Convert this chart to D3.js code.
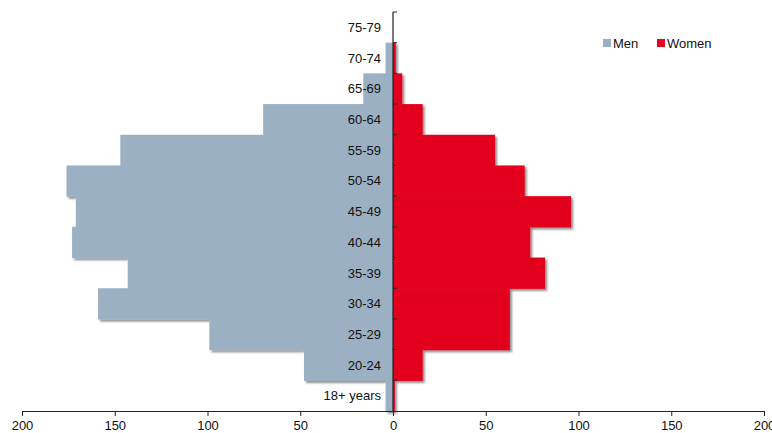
<!DOCTYPE html>
<html>
<head>
<meta charset="utf-8">
<script src="https://cdn.jsdelivr.net/npm/d3@7"></script>
<style>
body{margin:0;background:#fff;}
svg text{font-family:"Liberation Sans",Arial,sans-serif;}
</style>
</head>
<body>
<div id="chart"></div>
<script>
var ageGroups = ["75-79","70-74","65-69","60-64","55-59","50-54","45-49","40-44","35-39","30-34","25-29","20-24","18+ years"];
var menValues = [0,4,16,70,147,176,171,173,143,159,99,48,4];
var womenValues = [0,1.5,5,16,55,71,96,74,82,63,63,16,1];
var xTicks = [-200,-150,-100,-50,0,50,100,150,200];

var width = 772, height = 433;

var svg = d3.select("#chart").append("svg")
    .attr("width", width)
    .attr("height", height);

var defs = svg.append("defs");
var f = defs.append("filter").attr("id","shadow")
    .attr("x","-5%").attr("y","-5%").attr("width","110%").attr("height","115%");
f.append("feDropShadow")
    .attr("dx",2).attr("dy",2).attr("stdDeviation",1.3)
    .attr("flood-color","#000").attr("flood-opacity",0.45);

var x = d3.scaleLinear().domain([-200,200]).range([22,764]);
var y = d3.scaleBand().domain(ageGroups).range([12,411]).padding(0);

var rows = ageGroups.map(function(g,i){ return {group:g, men:menValues[i], women:womenValues[i]}; });

// men
svg.append("g").attr("filter","url(#shadow)")
  .selectAll("rect").data(rows).enter().append("rect")
    .attr("x", function(d){ return x(-d.men); })
    .attr("y", function(d){ return y(d.group); })
    .attr("width", function(d){ return x(0) - x(-d.men); })
    .attr("height", y.bandwidth() + 0.6)
    .attr("fill", "#9bb0c2");

// women
svg.append("g").attr("filter","url(#shadow)")
  .selectAll("rect").data(rows).enter().append("rect")
    .attr("x", x(0))
    .attr("y", function(d){ return y(d.group); })
    .attr("width", function(d){ return x(d.women) - x(0); })
    .attr("height", y.bandwidth() + 0.6)
    .attr("fill", "#e3051f");

// category labels
svg.append("g").selectAll("text").data(ageGroups).enter().append("text")
    .attr("x", x(0) - 12)
    .attr("y", function(d){ return y(d) + y.bandwidth()/2; })
    .attr("dy", "0.36em")
    .attr("text-anchor","end")
    .attr("font-size", 13)
    .attr("fill","#111")
    .text(function(d){ return d; });

// vertical axis with boundary ticks
var vAxis = svg.append("g");
vAxis.append("line")
    .attr("x1", x(0)).attr("x2", x(0))
    .attr("y1", 12).attr("y2", 411)
    .attr("stroke","#222").attr("stroke-width",1.2);
var bounds = ageGroups.map(function(g){ return y(g); });
vAxis.selectAll("line.tk").data(bounds).enter().append("line")
    .attr("class","tk")
    .attr("x1", x(0)).attr("x2", x(0)+4)
    .attr("y1", function(d){ return d; }).attr("y2", function(d){ return d; })
    .attr("stroke","#222");

// bottom axis
var xAxis = d3.axisBottom(x)
    .tickValues(xTicks)
    .tickFormat(function(d){ return Math.abs(d); })
    .tickSizeOuter(0)
    .tickSize(5)
    .tickPadding(5);
var gx = svg.append("g").attr("transform","translate(0,411)").call(xAxis);
gx.select(".domain").attr("stroke","#222");
gx.selectAll(".tick line").attr("stroke","#222");
gx.selectAll(".tick text").attr("font-size",13).attr("fill","#111")
    .attr("font-family","Liberation Sans, Arial, sans-serif");

// legend
var legend = svg.append("g").attr("transform","translate(603,38)");
var items = [{label:"Men", color:"#9bb0c2", dx:0},{label:"Women", color:"#e3051f", dx:54}];
var li = legend.selectAll("g").data(items).enter().append("g")
    .attr("transform", function(d){ return "translate(" + d.dx + ",0)"; });
li.append("rect").attr("width",8).attr("height",8).attr("y",1).attr("fill",function(d){ return d.color; });
li.append("text").attr("x",10).attr("y",5).attr("dy","0.36em")
    .attr("font-size",13).attr("fill","#111")
    .text(function(d){ return d.label; });
</script>
</body>
</html>
